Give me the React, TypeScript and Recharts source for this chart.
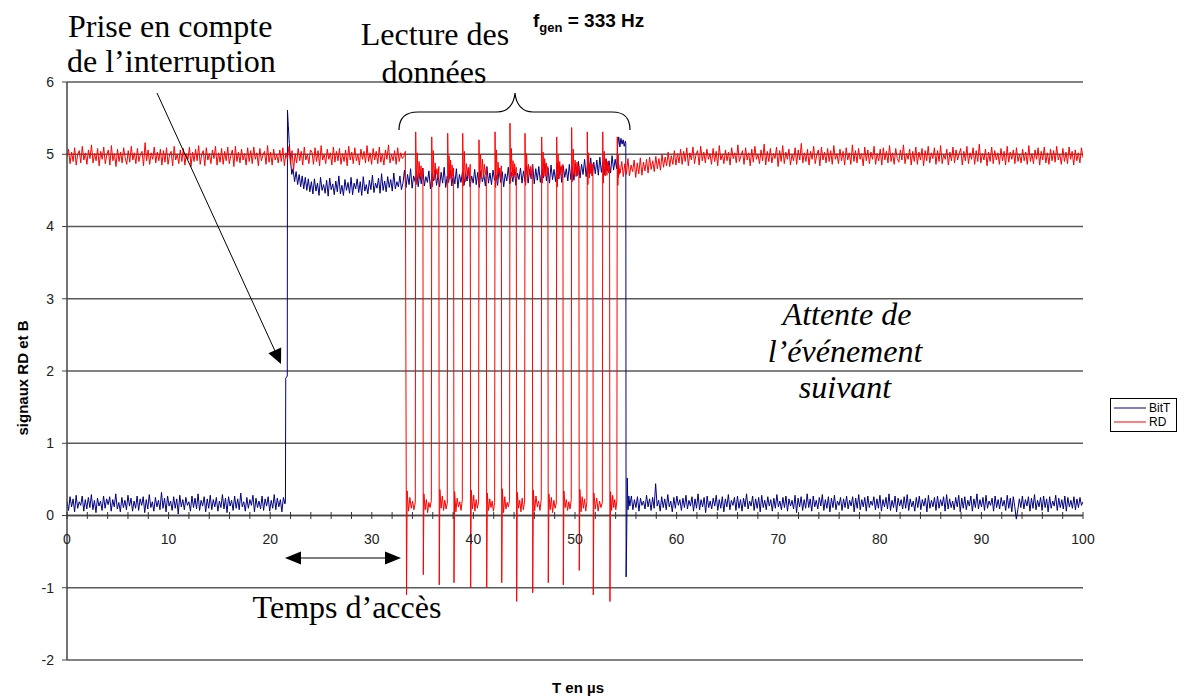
import React from 'react';
import { LineChart, Line, XAxis, YAxis, CartesianGrid, ReferenceLine, Legend } from 'recharts';

// ---- axis ticks ----
const xTicks = [0, 2, 4, 6, 8, 10, 12, 14, 16, 18, 20, 22, 24, 26, 28, 30, 32, 34, 36, 38, 40, 42, 44, 46, 48, 50, 52, 54, 56, 58, 60, 62, 64, 66, 68, 70, 72, 74, 76, 78, 80, 82, 84, 86, 88, 90, 92, 94, 96, 98, 100];
const xLabels = [0, 10, 20, 30, 40, 50, 60, 70, 80, 90, 100];
const yTicks = [-2, -1, 0, 1, 2, 3, 4, 5, 6];

// ---- BitT (blue) ----
const bitTIdleStart = [
  0.2, 0.07, 0.26, 0.12, 0.23, 0.05, 0.28, 0.1, 0.19, 0.14, 0.27, 0.06, 0.22, 0.09, 0.25, 0.11,
  0.29, 0.08, 0.21, 0.04, 0.24, 0.13, 0.2, 0.07, 0.27, 0.1, 0.23, 0.15, 0.26, 0.06, 0.22, 0.12,
  0.3, 0.09, 0.18, 0.05, 0.25, 0.11, 0.21, 0.08, 0.28, 0.13, 0.24, 0.06, 0.2, 0.1, 0.27, 0.07,
  0.23, 0.14, 0.26, 0.04, 0.22, 0.09, 0.29, 0.11, 0.19, 0.06, 0.25, 0.12, 0.21, 0.08, 0.32, 0.1,
  0.24, 0.05, 0.27, 0.13, 0.2, 0.07, 0.26, 0.1, 0.23, 0.02, 0.28, 0.12, 0.22, 0.08, 0.25, 0.14,
  0.19, 0.06, 0.27, 0.11, 0.24, 0.09, 0.3, 0.07, 0.21, 0.13, 0.26, 0.05, 0.23, 0.1, 0.28, 0.08,
  0.22, 0.12, 0.25, 0.06, 0.2, 0.11, 0.29, 0.09, 0.24, 0.04, 0.26, 0.13, 0.21, 0.07, 0.27, 0.1,
  0.23, 0.08, 0.31, 0.12, 0.19, 0.06, 0.25, 0.1, 0.22, 0.14, 0.28, 0.05, 0.24, 0.11, 0.2, 0.09,
  0.27, 0.07, 0.23, 0.13, 0.26, 0.06, 0.21, 0.1, 0.29, 0.08, 0.24, 0.12, 0.22, 0.05, 0.25, 0.16,
];
const bitTRiseT = [21.5, 21.53, 21.68, 21.7, 21.78, 21.88, 22.0, 22.12];
const bitTRiseV = [0.2, 1.9, 1.93, 5.61, 5.4, 5.15, 4.92, 4.72];
const bitTHigh = [
  4.8, 4.62, 4.76, 4.58, 4.72, 4.55, 4.7, 4.52, 4.68, 4.5, 4.66, 4.48,
  4.62, 4.45, 4.66, 4.49, 4.6, 4.43, 4.68, 4.5, 4.58, 4.46, 4.64, 4.42, 4.67, 4.51, 4.59, 4.44, 4.63, 4.48, 4.7, 4.45,
  4.57, 4.43, 4.65, 4.5, 4.61, 4.46, 4.68, 4.44, 4.6, 4.52, 4.66, 4.47, 4.62, 4.43, 4.69, 4.49, 4.58, 4.45, 4.64, 4.51,
  4.71, 4.47, 4.6, 4.53, 4.67, 4.46, 4.73, 4.5, 4.63, 4.48, 4.69, 4.54, 4.65, 4.49, 4.74, 4.52, 4.62, 4.55, 4.7, 4.51,
  4.6, 4.78, 4.54, 4.72, 4.58, 4.8, 4.53, 4.7, 4.62, 4.76, 4.55, 4.74, 4.59, 4.81, 4.56, 4.69, 4.61, 4.77, 4.52, 4.73,
  4.63, 4.79, 4.57, 4.71, 4.55, 4.75, 4.6, 4.82, 4.54, 4.7, 4.62, 4.78, 4.56, 4.73, 4.59, 4.8, 4.53, 4.72, 4.61, 4.76,
  4.57, 4.74, 4.63, 4.81, 4.55, 4.7, 4.6, 4.79, 4.58, 4.75, 4.54, 4.77, 4.62, 4.72, 4.56, 4.83, 4.6, 4.74, 4.58, 4.78,
  4.64, 4.71, 4.57, 4.8, 4.61, 4.76, 4.55, 4.73, 4.63, 4.82, 4.59, 4.75, 4.62, 4.79, 4.57, 4.74, 4.65, 4.81, 4.6, 4.77,
  4.62, 4.84, 4.6, 4.79, 4.66, 4.86, 4.59, 4.8, 4.64, 4.83, 4.61, 4.78, 4.67, 4.87, 4.63, 4.81, 4.6, 4.85, 4.65, 4.79,
  4.62, 4.88, 4.66, 4.82, 4.61, 4.84, 4.68, 4.8, 4.63, 4.86, 4.65, 4.83, 4.64, 4.87,
  4.7, 4.9, 4.67, 4.86, 4.72, 4.93, 4.69, 4.88, 4.74, 4.95, 4.7, 4.89, 4.73, 4.92, 4.71, 4.96, 4.75, 4.9, 4.72, 4.94,
  4.77, 4.91, 4.74, 4.98, 4.78, 4.93, 4.8,
];
const bitTHold = [5.12, 5.24, 5.1, 5.22, 5.14, 5.2, 5.11, 5.18];
const bitTFallT = [55.0, 55.03, 55.09, 55.14, 55.22, 55.3];
const bitTFallV = [5.15, -0.85, -0.3, 0.52, 0.08, 0.27];
const bitTIdleEnd = [
  0.13, 0.27, 0.08, 0.22, 0.11, 0.26, 0.06, 0.24, 0.14, 0.2, 0.09, 0.28, 0.12, 0.23, 0.07, 0.25, 0.1, 0.44, 0.13, 0.21,
  0.06, 0.26, 0.11, 0.23, 0.08, 0.29, 0.12, 0.2, 0.05, 0.25, 0.1, 0.27, 0.14, 0.22, 0.07, 0.24, 0.11, 0.28, 0.09, 0.21,
  0.13, 0.26, 0.06, 0.23, 0.1, 0.3, 0.08, 0.22, 0.12, 0.25, 0.04, 0.27, 0.11, 0.2, 0.09, 0.24, 0.13, 0.28, 0.07, 0.22,
  0.1, 0.26, 0.05, 0.23, 0.12, 0.29, 0.08, 0.21, 0.14, 0.25, 0.07, 0.27, 0.1, 0.22, 0.06, 0.24, 0.12, 0.3, 0.09, 0.2,
  0.13, 0.27, 0.07, 0.23, 0.1, 0.25, 0.05, 0.28, 0.11, 0.21, 0.08, 0.26, 0.13, 0.22, 0.06, 0.24, 0.1, 0.29, 0.12, 0.2,
  0.08, 0.25, 0.11, 0.27, 0.06, 0.23, 0.13, 0.21, 0.09, 0.28, 0.04, 0.24, 0.12, 0.26, 0.07, 0.22, 0.1, 0.3, 0.11, 0.23,
  0.06, 0.27, 0.12, 0.21, 0.09, 0.25, 0.13, 0.29, 0.07, 0.22, 0.1, 0.26, 0.05, 0.24, 0.11, 0.28, 0.08, 0.2, 0.14, 0.25,
  0.07, 0.23, 0.11, 0.27, 0.09, 0.21, 0.13, 0.26, 0.05, 0.24, 0.1, 0.29, 0.08, 0.22, 0.12, 0.25, 0.06, 0.27, 0.11, 0.2,
  0.14, 0.26, 0.08, 0.23, 0.1, 0.28, 0.06, 0.22, 0.12, 0.25, 0.09, 0.3, 0.07, 0.21, 0.11, 0.27, 0.05, 0.24, 0.13, 0.22,
  0.09, 0.26, 0.1, 0.29, 0.07, 0.23, 0.12, 0.2, 0.06, 0.25, 0.11, 0.27, 0.08, 0.22, 0.13, 0.24, 0.05, 0.28, 0.1, 0.21,
  0.12, 0.25, 0.07, 0.27, 0.1, 0.22, 0.13, 0.26, 0.06, 0.29, 0.09, 0.23, 0.11, 0.2, 0.08, 0.25, 0.12, 0.28, 0.05, 0.24,
  0.1, 0.26, 0.08, 0.21, 0.13, 0.27, 0.06, 0.23, 0.11, 0.3, 0.09, 0.22, 0.12, 0.25, 0.07, 0.28, 0.1, 0.2, 0.14, 0.24,
  0.06, 0.27, 0.11, 0.22, 0.09, 0.25, 0.13, 0.21, 0.07, 0.28, 0.1, 0.24, 0.05, 0.26, 0.12, -0.05, 0.08, 0.23, 0.11, 0.27,
  0.09, 0.22, 0.13, 0.26, 0.06, 0.24, 0.1, 0.29, 0.08, 0.21, 0.12, 0.25, 0.07, 0.27, 0.11, 0.23, 0.05, 0.26, 0.1, 0.2,
  0.13, 0.28, 0.07, 0.24, 0.11, 0.22, 0.09, 0.27, 0.06, 0.25, 0.12, 0.21, 0.1, 0.26, 0.08, 0.23, 0.11, 0.25, 0.14, 0.19,
];

// ---- RD (red) ----
const rdIdleStart = [
  4.96, 5.07, 4.87, 5.03, 4.9, 5.09, 4.85, 5.0, 5.05, 4.88, 5.11, 4.92, 5.02, 4.86, 5.06, 4.94, 5.13, 4.88, 5.01, 4.91,
  5.08, 4.84, 5.04, 4.93, 5.1, 4.87, 4.99, 5.06, 4.85, 5.12, 4.91, 5.01, 4.83, 5.07, 4.9, 5.03, 4.88, 5.09, 4.95, 4.86,
  5.05, 4.89, 5.11, 4.92, 5.02, 4.87, 5.08, 4.9, 5.0, 5.04, 4.84, 5.16, 4.91, 5.06, 4.86, 5.02, 4.93, 5.1, 4.88, 5.03,
  4.91, 5.07, 4.85, 5.05, 4.89, 5.09, 4.86, 4.99, 5.04, 4.84, 5.11, 4.92, 5.0, 4.87, 5.06, 4.9, 5.08, 4.85, 5.01, 4.93,
  5.1, 4.83, 5.03, 4.9, 5.07, 4.91, 5.12, 4.86, 5.0, 5.05, 4.84, 5.09, 4.92, 5.01, 4.87, 5.06, 4.94, 5.11, 4.85, 5.02,
  4.89, 5.08, 4.86, 5.04, 4.91, 5.1, 4.87, 4.98, 5.06, 4.83, 5.11, 4.9, 5.03, 4.88, 5.07, 4.92, 5.01, 4.85, 5.09, 4.9,
  5.05, 4.87, 5.1, 4.93, 5.02, 4.84, 5.08, 4.91, 4.99, 5.04, 4.86, 5.12, 4.89, 5.03, 4.85, 5.07, 4.92, 5.0, 4.88, 5.06,
  4.9, 5.09, 4.84, 5.02, 4.93, 5.11, 4.86, 5.05, 4.78, 5.01, 4.88, 5.08, 4.91, 5.04, 4.85, 5.1, 4.92, 5.0, 4.87, 5.06,
  5.03, 4.86, 5.09, 4.9, 5.05, 4.84, 5.12, 4.92, 5.0, 4.87, 5.07, 4.93, 5.02, 4.85, 5.1, 4.89, 5.04, 4.91, 5.08, 4.86,
  5.01, 4.9, 5.06, 4.84, 5.11, 4.92, 5.03, 4.87, 5.09, 4.91, 5.0, 4.85, 5.07, 4.93, 5.04, 4.88, 5.12, 4.9, 5.02, 4.86,
  5.08, 4.92, 5.04, 4.87, 5.1, 4.89, 5.01, 4.85, 5.06, 4.93, 5.13, 4.88, 5.0, 4.91, 5.05, 4.86, 5.09, 4.9, 5.02, 4.94,
  4.97, 5.04,
];
const rdFall = [33.42, 35.07, 36.64, 38.09, 39.73, 41.31, 42.79, 44.26, 45.84, 47.37, 48.85, 50.42, 51.8, 53.44];
const rdUnder = [-1.1, -0.82, -0.96, -0.93, -1.0, -1.0, -0.93, -1.19, -1.07, -0.93, -0.96, -0.76, -1.1, -1.19];
const rdRise = [34.32, 35.9, 37.47, 38.95, 40.55, 42.13, 43.6, 45.08, 46.72, 48.2, 49.67, 51.21, 52.73, 54.16];
const rdOver = [5.31, 5.24, 5.29, 5.29, 5.2, 5.31, 5.43, 5.29, 5.24, 5.24, 5.37, 5.31, 5.31, 5.24];
const rdLow = [
  [0.34, 0.06, 0.25, 0.1, 0.2, 0.08, 0.18],
  [0.3, 0.08, 0.22, 0.04, 0.18, 0.11, 0.21],
  [0.36, 0.1, 0.27, 0.07, 0.21, 0.09, 0.17],
  [0.33, 0.05, 0.24, 0.12, 0.19, 0.07, 0.22],
  [0.35, 0.09, 0.28, 0.06, 0.22, 0.1, 0.19],
  [0.31, 0.07, 0.23, 0.11, 0.2, 0.06, 0.18],
  [0.37, 0.04, 0.26, 0.09, 0.18, 0.12, 0.21],
  [0.32, 0.1, 0.21, 0.05, 0.24, 0.08, 0.2],
  [0.35, 0.06, 0.27, 0.12, 0.2, 0.07, 0.23],
  [0.3, 0.08, 0.25, 0.04, 0.21, 0.1, 0.17],
  [0.34, 0.11, 0.22, 0.07, 0.19, 0.09, 0.22],
  [0.36, 0.05, 0.26, 0.1, 0.23, 0.06, 0.19],
  [0.31, 0.09, 0.24, 0.06, 0.2, 0.11, 0.18],
  [0.33, 0.07, 0.28, 0.11, 0.22, 0.08, 0.2],
];
const rdHigh = [
  [4.58, 5.02, 4.66, 4.9, 4.7, 4.84, 4.65, 4.8],
  [4.55, 5.05, 4.64, 4.88, 4.72, 4.8, 4.67, 4.83],
  [4.6, 4.98, 4.68, 4.92, 4.66, 4.85, 4.7, 4.81],
  [4.56, 5.04, 4.62, 4.87, 4.71, 4.82, 4.66, 4.86],
  [4.59, 5.0, 4.67, 4.93, 4.69, 4.86, 4.72, 4.8],
  [4.54, 5.06, 4.65, 4.89, 4.73, 4.81, 4.68, 4.84],
  [4.61, 5.08, 4.7, 4.91, 4.68, 4.87, 4.71, 4.82],
  [4.57, 5.01, 4.63, 4.86, 4.72, 4.83, 4.67, 4.85],
  [4.6, 5.03, 4.69, 4.94, 4.7, 4.88, 4.73, 4.83],
  [4.55, 4.99, 4.66, 4.9, 4.74, 4.84, 4.69, 4.86],
  [4.62, 5.07, 4.71, 4.92, 4.69, 4.89, 4.72, 4.84],
  [4.58, 5.02, 4.67, 4.88, 4.73, 4.86, 4.7, 4.87],
  [4.6, 5.04, 4.7, 4.93, 4.71, 4.9, 4.74, 4.85],
  [4.57, 5.0, 4.68, 4.85, 4.72, 4.8],
];
const rdIdleEnd = [
  4.74, 4.9, 4.69, 4.87, 4.72, 4.94, 4.7, 4.85, 4.76, 4.92, 4.68, 4.88, 4.73, 4.95, 4.71, 4.89, 4.77, 4.93, 4.74, 4.96,
  4.79, 4.91, 4.76, 4.97, 4.8, 4.94, 4.78, 5.0, 4.82, 4.96, 4.84, 5.03, 4.83, 4.98, 4.86, 5.05, 4.85, 5.01, 4.88, 5.07,
  4.86, 5.04, 4.9, 5.09, 4.84, 5.02, 4.92, 5.1, 4.87, 5.0, 5.05, 4.85, 5.11, 4.91, 5.03, 4.88, 5.07, 4.93, 5.01, 4.86,
  5.08, 4.9, 5.04, 4.84, 5.12, 4.92, 5.0, 4.87, 5.06, 4.91, 5.03, 4.85, 5.09, 4.94, 5.02, 4.88, 5.13, 4.9, 4.98, 5.05,
  4.86, 5.09, 4.92, 5.02, 4.84, 5.07, 4.89, 5.11, 4.93, 5.0, 4.87, 5.06, 4.91, 5.14, 4.85, 5.04, 4.9, 5.08, 4.88, 5.01,
  4.94, 5.1, 4.83, 5.05, 4.9, 5.12, 4.87, 5.03, 4.93, 5.07, 4.85, 5.0, 4.91, 5.09, 4.86, 5.06, 4.92, 5.15, 4.88, 5.02,
  4.9, 5.07, 4.85, 5.04, 4.93, 5.11, 4.87, 4.99, 5.06, 4.84, 5.1, 4.92, 5.03, 4.88, 5.08, 4.9, 5.05, 4.86, 5.12, 4.93,
  5.01, 4.87, 5.07, 4.91, 5.04, 4.85, 5.09, 4.92, 5.02, 4.86, 5.13, 4.9, 5.05, 4.88, 5.08, 4.93, 5.01, 4.84, 5.1, 4.91,
  5.06, 4.87, 5.03, 4.93, 5.11, 4.86, 5.01, 4.91, 5.07, 4.85, 5.09, 4.92, 5.04, 4.88, 5.12, 4.9, 5.02, 4.86, 5.08, 4.94,
  4.89, 5.06, 4.92, 5.13, 4.87, 5.01, 4.93, 5.07, 4.85, 5.04, 4.9, 5.1, 4.86, 5.03, 4.92, 5.08, 4.84, 5.05, 4.91, 5.11,
  4.88, 5.02, 4.94, 5.09, 4.86, 5.05, 4.9, 5.12, 4.87, 5.0, 4.93, 5.07, 4.85, 5.03, 4.91, 5.1, 4.88, 5.06, 4.92, 5.01,
  5.08, 4.85, 5.04, 4.91, 5.11, 4.87, 5.02, 4.93, 5.09, 4.86, 5.05, 4.9, 5.14, 4.88, 5.01, 4.92, 5.07, 4.84, 5.03, 4.9,
  5.1, 4.87, 5.05, 4.92, 5.02, 4.86, 5.08, 4.91, 5.04, 4.85, 5.11, 4.89, 5.03, 4.93, 5.06, 4.87, 5.09, 4.9, 5.0, 4.88,
  5.07, 4.91, 5.03, 4.86, 5.12, 4.9, 5.01, 4.87, 5.06, 4.93, 5.09, 4.85, 5.04, 4.92, 5.1, 4.88, 5.02, 4.86, 5.07, 4.91,
  5.05, 4.89, 5.11, 4.92, 5.0, 4.86, 5.08, 4.9, 5.03, 4.87, 5.1, 4.93, 5.04, 4.85, 5.06, 4.91, 5.02, 4.88, 5.09, 4.95,
];

type Pt = { t: number; v: number };
function segment(t0: number, t1: number, values: number[]): Pt[] {
  const n = values.length;
  return values.map((v, i) => ({ t: t0 + (i * (t1 - t0)) / (n - 1), v }));
}
function pairs(ts: number[], vs: number[]): Pt[] {
  return ts.map((t, i) => ({ t, v: vs[i] }));
}

const bitTData: Pt[] = [
  ...segment(0, 21.45, bitTIdleStart),
  ...pairs(bitTRiseT, bitTRiseV),
  ...segment(22.25, 54.1, bitTHigh),
  ...segment(54.2, 54.95, bitTHold),
  ...pairs(bitTFallT, bitTFallV),
  ...segment(55.4, 100, bitTIdleEnd),
];

const rdData: Pt[] = [...segment(0, 33.3, rdIdleStart)];
rdFall.forEach((f, k) => {
  rdData.push({ t: f, v: rdUnder[k] });
  rdData.push(...segment(f + 0.06, rdRise[k] - 0.04, rdLow[k]));
  rdData.push({ t: rdRise[k], v: rdOver[k] });
  const end = k < rdFall.length - 1 ? rdFall[k + 1] - 0.04 : 54.38;
  rdData.push(...segment(rdRise[k] + 0.06, end, rdHigh[k]));
});
rdData.push(...segment(54.45, 100, rdIdleEnd));

const W = 1185;
const H = 697;
const PLOT_TOP = 82;
const PLOT_BOTTOM = 660;
const ZERO_OFFSET = ((PLOT_BOTTOM - PLOT_TOP) * 2) / 8;
const SANS = 'Arial, "Liberation Sans", sans-serif';
const SERIF = '"Liberation Serif", "Times New Roman", serif';

const XTick = (props: any) => {
  const { x, y, payload } = props;
  const y0 = y - ZERO_OFFSET;
  const isMajor = xLabels.includes(payload.value);
  return (
    <g>
      <line x1={x} x2={x} y1={y0 - 3.5} y2={y0 + 3.5} stroke="#333" strokeWidth={1} />
      {isMajor && (
        <text x={x} y={y0 + 28} textAnchor="middle" fontSize={14} fill="#222" fontFamily={SANS}>
          {payload.value}
        </text>
      )}
    </g>
  );
};

const LegendBox = (props: any) => {
  const items = props.payload || [];
  return (
    <div
      style={{
        border: '1px solid #000',
        background: '#fff',
        padding: '2px 6px 2px 3px',
        fontFamily: SANS,
        fontSize: 12,
        lineHeight: '14px',
        color: '#000',
      }}
    >
      {items.map((it: any) => (
        <div key={it.value} style={{ display: 'flex', alignItems: 'center' }}>
          <svg width={32} height={14}>
            <line x1={0} x2={32} y1={7} y2={7} stroke={it.color} strokeWidth={1} />
          </svg>
          <span style={{ marginLeft: 3 }}>{it.value}</span>
        </div>
      ))}
    </div>
  );
};

export default function App() {
  return (
    <div style={{ position: 'absolute', left: 0, top: 0, width: W, height: H, background: '#fff', fontFamily: SANS }}>
      <LineChart width={W} height={H} margin={{ top: PLOT_TOP, right: 102, bottom: 0, left: 0 }}>
        <CartesianGrid horizontal vertical={false} stroke="#5a5a5a" strokeWidth={1.5} />
        <XAxis
          type="number"
          dataKey="t"
          domain={[0, 100]}
          ticks={xTicks}
          interval={0}
          allowDataOverflow
          height={37}
          axisLine={false}
          tickLine={false}
          tickSize={0}
          tickMargin={0}
          tick={(p: any) => <XTick {...p} />}
        />
        <YAxis
          type="number"
          domain={[-2, 6]}
          ticks={yTicks}
          interval={0}
          allowDataOverflow
          width={67}
          tickSize={5}
          tickMargin={8}
          axisLine={{ stroke: '#444', strokeWidth: 1.5 }}
          tickLine={{ stroke: '#444' }}
          tick={{ fontSize: 14, fill: '#222', fontFamily: SANS }}
        />
        <ReferenceLine y={0} stroke="#444" strokeWidth={1.5} />
        <Line
          data={bitTData}
          dataKey="v"
          name="BitT"
          type="linear"
          stroke="#000080"
          strokeWidth={1}
          dot={false}
          isAnimationActive={false}
        />
        <Line
          data={rdData}
          dataKey="v"
          name="RD"
          type="linear"
          stroke="#ff0000"
          strokeWidth={1}
          dot={false}
          isAnimationActive={false}
        />
        <Legend
          layout="vertical"
          align="center"
          verticalAlign="middle"
          content={(p: any) => <LegendBox {...p} />}
          wrapperStyle={{ left: 1110, top: 398, width: 'auto', height: 'auto' }}
        />
      </LineChart>

      <svg
        width={W}
        height={H}
        style={{ position: 'absolute', left: 0, top: 0, pointerEvents: 'none' }}
      >
        {/* annotation: interruption */}
        <text x={68} y={37} fontFamily={SERIF} fontSize={32} fill="#000">Prise en compte</text>
        <text x={67} y={72} fontFamily={SERIF} fontSize={32} fill="#000">de l’interruption</text>
        <line x1={157} y1={93} x2={275} y2={351} stroke="#000" strokeWidth={1} />
        <polygon points="281,364 281.2,347.5 268.4,353.3" fill="#000" />

        {/* annotation: lecture des données */}
        <text x={435} y={45} textAnchor="middle" fontFamily={SERIF} fontSize={32} fill="#000">Lecture des</text>
        <text x={434} y={83} textAnchor="middle" fontFamily={SERIF} fontSize={32} fill="#000">données</text>
        <path
          d="M399,130 C399,118 405,112 418,112 L497,112 C508,112 514,104 515,93 C516,104 522,112 533,112 L612,112 C625,112 630,118 630,130"
          fill="none"
          stroke="#000"
          strokeWidth={1.2}
        />

        {/* f_gen */}
        <text x={533} y={27} fontFamily={SANS} fontWeight="bold" fontSize={19} fill="#000">
          f<tspan dy={5} fontSize={13}>gen</tspan>
          <tspan dy={-5}> = 333 Hz</tspan>
        </text>

        {/* temps d'accès */}
        <line x1={298} y1={558} x2={388} y2={558} stroke="#000" strokeWidth={1.2} />
        <polygon points="285,558 301,551.5 301,564.5" fill="#000" />
        <polygon points="401,558 385,551.5 385,564.5" fill="#000" />
        <text x={347} y={618} textAnchor="middle" fontFamily={SERIF} fontSize={32} fill="#000">Temps d’accès</text>

        {/* attente */}
        <text x={847} y={325} textAnchor="middle" fontFamily={SERIF} fontStyle="italic" fontSize={32} fill="#000">Attente de</text>
        <text x={845} y={362} textAnchor="middle" fontFamily={SERIF} fontStyle="italic" fontSize={32} fill="#000">l’événement</text>
        <text x={845} y={398} textAnchor="middle" fontFamily={SERIF} fontStyle="italic" fontSize={32} fill="#000">suivant</text>

        {/* axis titles */}
        <text
          x={28}
          y={378}
          transform="rotate(-90 28 378)"
          textAnchor="middle"
          fontFamily={SANS}
          fontWeight="bold"
          fontSize={15}
          fill="#000"
        >
          signaux RD et B
        </text>
        <text x={578} y={693} textAnchor="middle" fontFamily={SANS} fontWeight="bold" fontSize={15} fill="#000">
          T en µs
        </text>
      </svg>
    </div>
  );
}
